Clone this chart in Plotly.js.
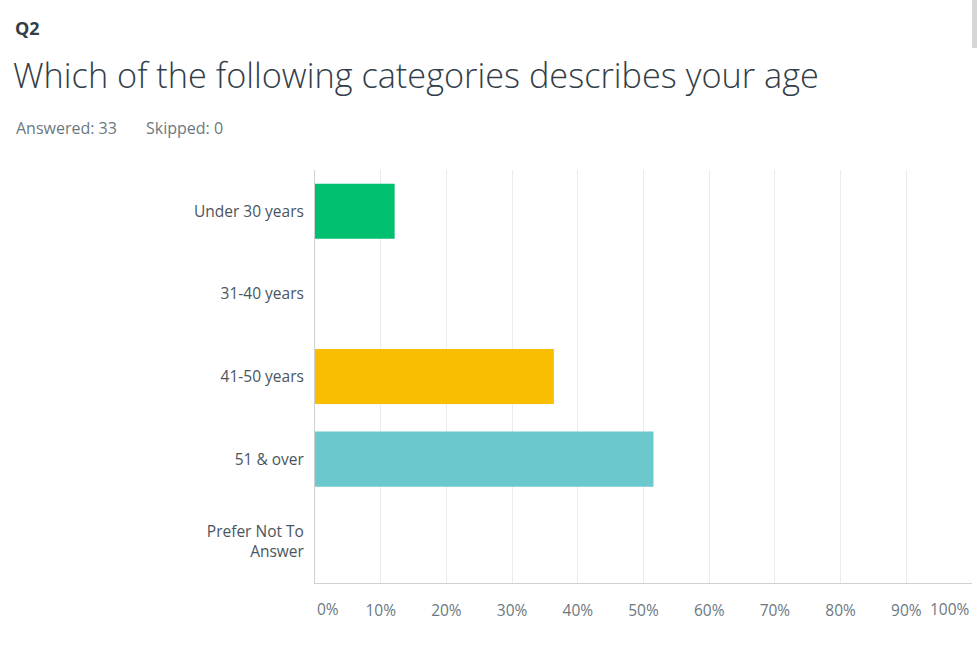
<!DOCTYPE html>
<html>
<head>
<meta charset="utf-8">
<script src="https://cdn.plot.ly/plotly-3.0.1.min.js"></script>
<style>
  html, body { margin: 0; padding: 0; background: #fff; }
  #chart { width: 977px; height: 646px; }
</style>
</head>
<body>
<div id="chart"></div>
<script>
// answer choices, top to bottom
const categories = ['Under 30 years', '31-40 years', '41-50 years', '51 & over', 'Prefer Not To<br>Answer']
const shares = [12.12, 0, 36.36, 51.52, 0]   // percent of respondents
const barColors = ['#00bf6f', '#f9be00', '#f9be00', '#6bc8cd', '#507cb6']

const tickVals = [0, 10, 20, 30, 40, 50, 60, 70, 80, 90, 100]
const tickLabels = ['0%', '10%', '20%', '30%', '40%', '50%', '60%', '70%', '80%', '90%', '100%']

const FONT = '"Open Sans", Roboto, sans-serif'

const trace = {
	type: 'bar',
	orientation: 'h',
	y: categories,
	x: shares,
	marker: { color: barColors },
	hoverinfo: 'x+y',
}

// 0% and 100% sit inside the edges, the rest are centred on their gridlines
const edgeLabels = [
	{ x: tickVals[0], text: tickLabels[0], xanchor: 'left' },
	{ x: tickVals[tickVals.length - 1], text: tickLabels[tickLabels.length - 1], xanchor: 'right' },
].map(a => ({
	x: a.x, xref: 'x',
	y: 0, yref: 'paper', yanchor: 'top', yshift: -13,
	text: a.text, xanchor: a.xanchor,
	showarrow: false,
	font: { family: FONT, size: 15.5, color: '#6b787f' },
}))

const headerNotes = [
	{ text: '<b>Q2</b>', x: 13, y: 28, size: 18, color: '#333e48' },
	{ text: 'Which of the following categories describes your age', x: 11, y: 74, size: 34.3, color: '#333e48' },
	{ text: 'Answered: 33&nbsp;&nbsp;&nbsp;&nbsp;&nbsp;&nbsp;&nbsp;Skipped: 0', x: 14, y: 128, size: 16, color: '#6b787f' },
].map(h => ({
	text: h.text,
	xref: 'paper', yref: 'paper',
	x: (h.x - 315) / 657, xanchor: 'left',
	y: (583 - h.y) / 413, yanchor: 'middle',
	showarrow: false,
	font: { family: FONT, size: h.size, color: h.color, weight: h.size > 30 ? 300 : 400 },
}))

const layout = {
	width: 977,
	height: 646,
	margin: { l: 315, r: 5, t: 170, b: 63 },
	paper_bgcolor: '#fff',
	plot_bgcolor: '#fff',
	showlegend: false,
	bargap: 0.333,
	font: { family: FONT, size: 15.5, color: '#333e48' },
	xaxis: {
		range: [0, 100],
		tickvals: tickVals.slice(1, -1),
		ticktext: tickLabels.slice(1, -1),
		showgrid: true,
		gridcolor: '#ebebeb',
		zeroline: false,
		showline: true,
		linecolor: '#d0d0d0',
		linewidth: 1,
		ticks: '',
		ticklabelstandoff: 13,
		tickfont: { family: FONT, size: 15.5, color: '#6b787f' },
		fixedrange: true,
	},
	yaxis: {
		autorange: 'reversed',
		showgrid: false,
		zeroline: false,
		showline: true,
		linecolor: '#d0d0d0',
		ticks: '',
		ticklabelstandoff: 7,
		tickfont: { family: FONT, size: 15.5, color: '#4a5560' },
		fixedrange: true,
	},
	annotations: edgeLabels.concat(headerNotes),
	shapes: [{
		// scrollbar stub at the top right
		type: 'rect', xref: 'paper', yref: 'paper', layer: 'above',
		x0: (972 - 315) / 657, x1: (977 - 315) / 657,
		y0: (583 - 48) / 413, y1: (583 - 0) / 413,
		fillcolor: '#d6d6d6', line: { width: 0 },
	}],
}

Plotly.newPlot('chart', [trace], layout, { displayModeBar: false, staticPlot: true })
</script>
</body>
</html>
